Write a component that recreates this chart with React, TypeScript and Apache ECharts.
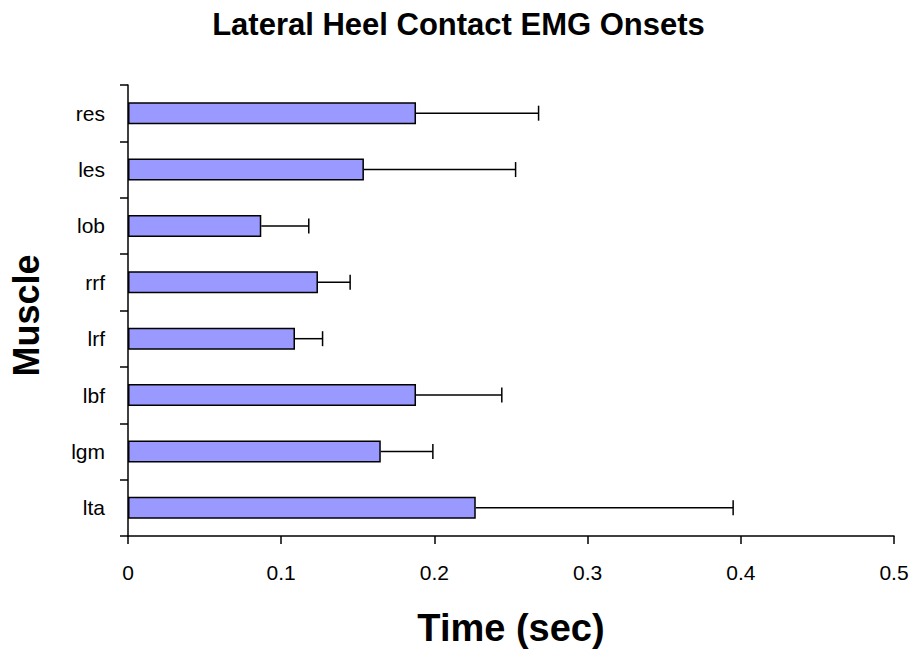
import React, { useEffect, useRef } from "react";
import * as echarts from "echarts";

const muscles = ["lta", "lgm", "lbf", "lrf", "rrf", "lob", "les", "res"];
const onsetMeans = [0.227, 0.165, 0.188, 0.109, 0.124, 0.087, 0.154, 0.188];
const onsetUpper = [0.395, 0.199, 0.244, 0.127, 0.145, 0.118, 0.253, 0.268];
const xTicks = [0, 0.1, 0.2, 0.3, 0.4, 0.5];

const FONT = "Liberation Sans, Arial, sans-serif";

export default function App() {
  const ref = useRef<HTMLDivElement>(null);
  useEffect(() => {
    document.body.style.margin = "0";
    const chart = echarts.init(ref.current!, null, { renderer: "svg" });
    const errData = muscles.map((_, i) => [i, onsetMeans[i], onsetUpper[i]]);
    chart.setOption({
      animation: false,
      backgroundColor: "#ffffff",
      title: {
        text: "Lateral Heel Contact EMG Onsets",
        left: "center",
        top: 4,
        textStyle: { fontFamily: FONT, fontWeight: "bold", fontSize: 31, color: "#000" },
      },
      grid: { left: 127, right: 23, top: 85, bottom: 118, containLabel: false },
      xAxis: {
        type: "value",
        min: 0,
        max: 0.5,
        interval: 0.1,
        name: "Time (sec)",
        nameLocation: "middle",
        nameGap: 73,
        nameTextStyle: { fontFamily: FONT, fontWeight: "bold", fontSize: 38, color: "#000" },
        axisLine: { show: true, lineStyle: { color: "#000", width: 1.5 } },
        axisTick: { show: true, length: 8, lineStyle: { color: "#000", width: 1.5 } },
        axisLabel: {
          margin: 26,
          fontFamily: FONT,
          fontSize: 21,
          color: "#000",
          formatter: (v: number) => {
            const t = xTicks.find((x) => Math.abs(x - v) < 1e-9);
            return t === undefined ? "" : String(t);
          },
        },
        splitLine: { show: false },
      },
      yAxis: {
        type: "category",
        data: muscles,
        name: "Muscle",
        nameLocation: "middle",
        nameGap: 84,
        nameRotate: 90,
        nameTextStyle: { fontFamily: FONT, fontWeight: "bold", fontSize: 36, color: "#000", padding: [0, 10, 0, 0] },
        axisLine: { show: true, lineStyle: { color: "#000", width: 1.5 } },
        axisTick: { show: true, length: 8, alignWithLabel: false, lineStyle: { color: "#000", width: 1.5 } },
        axisLabel: { margin: 23, fontFamily: FONT, fontSize: 21, color: "#000" },
      },
      series: [
        {
          type: "bar",
          data: onsetMeans,
          barWidth: 22,
          itemStyle: { color: "#9999ff", borderColor: "#000", borderWidth: 1.5 },
          z: 2,
        },
        {
          type: "custom",
          data: errData,
          encode: { x: [1, 2], y: 0 },
          z: 3,
          renderItem: (params: any, api: any) => {
            const cat = api.value(0);
            const start = api.coord([api.value(1), cat]);
            const end = api.coord([api.value(2), cat]);
            const half = 7.5;
            const style = { stroke: "#000", lineWidth: 1.5 };
            return {
              type: "group",
              children: [
                { type: "line", shape: { x1: start[0], y1: start[1], x2: end[0], y2: end[1] }, style },
                { type: "line", shape: { x1: end[0], y1: end[1] - half, x2: end[0], y2: end[1] + half }, style },
              ],
            };
          },
        },
      ],
    });
    return () => chart.dispose();
  }, []);
  return <div ref={ref} style={{ width: 917, height: 654 }} />;
}
